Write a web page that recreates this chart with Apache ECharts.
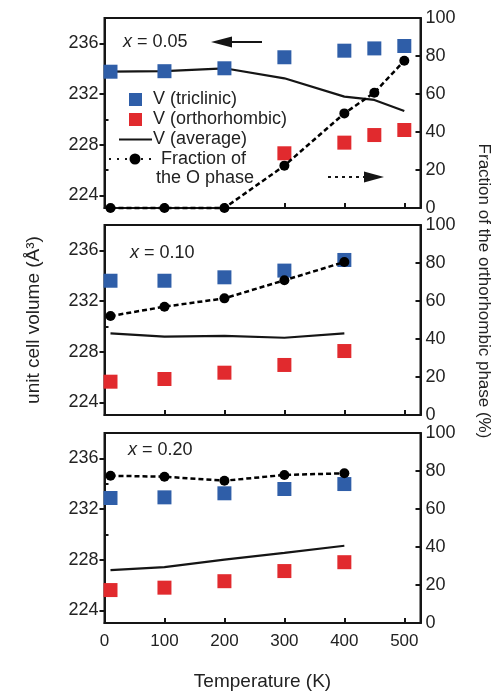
<!DOCTYPE html>
<html>
<head>
<meta charset="utf-8">
<script src="https://cdn.jsdelivr.net/npm/echarts@6/dist/echarts.min.js"></script>
<style>
  html, body { margin: 0; padding: 0; background: #fff; }
  #chart { width: 501px; height: 695px; }
</style>
</head>
<body>
<div id="chart"></div>
<script>
// temperatures (K)
const temps1 = [10, 100, 200, 300, 400, 450, 500]
const temps23 = [10, 100, 200, 300, 400]

// x = 0.05
const tricl1 = [233.76, 233.8, 234.03, 234.9, 235.42, 235.6, 235.79]
const ortho1 = [null, null, null, 227.32, 228.16, 228.76, 229.16]
const avg1 = [233.76, 233.8, 234.03, 233.24, 231.79, 231.53, 230.66]
const frac1 = [0, 0, 0, 22.3, 49.8, 60.7, 77.5]

// x = 0.10
const tricl2 = [233.6, 233.6, 233.87, 234.4, 235.24]
const ortho2 = [225.63, 225.84, 226.34, 226.95, 228.05]
const avg2 = [229.45, 229.18, 229.24, 229.1, 229.45]
const frac2 = [52.1, 57.0, 61.4, 70.9, 80.5]

// x = 0.20
const tricl3 = [232.87, 232.92, 233.24, 233.58, 233.97]
const ortho3 = [225.6, 225.79, 226.3, 227.1, 227.8]
const avg3 = [227.17, 227.41, 228.0, 228.53, 229.1]
const frac3 = [77.5, 77.0, 74.9, 77.9, 78.8]

const compLabels = ['0.05', '0.10', '0.20']
const volTicks = [224, 228, 232, 236]
const volMinorTicks = [226, 230, 234]

const BLUE = '#2f5ea8'
const RED = '#e12a2e'
const INK = '#151515'
const FONT = 'Liberation Sans, Arial, sans-serif'

const panels = [
  { temps: temps1, tricl: tricl1, ortho: ortho1, avg: avg1, frac: frac1 },
  { temps: temps23, tricl: tricl2, ortho: ortho2, avg: avg2, frac: frac2 },
  { temps: temps23, tricl: tricl3, ortho: ortho3, avg: avg3, frac: frac3 }
]

const pairs = (xs, ys) => xs.map((x, i) => [x, ys[i]]).filter(p => p[1] != null)

const gridTops = [18, 225, 433]
const GRID_LEFT = 104.5
const GRID_W = 316
const GRID_H = 190

const grid = []
const xAxis = []
const yAxis = []
const series = []

panels.forEach((p, i) => {
  grid.push({
    left: GRID_LEFT, top: gridTops[i], width: GRID_W, height: GRID_H,
    show: true, borderColor: INK, borderWidth: 2, backgroundColor: 'transparent'
  })
  xAxis.push({
    gridIndex: i,
    type: 'value',
    min: 0,
    max: 527,
    interval: 100,
    axisLine: { lineStyle: { color: INK, width: 2 } },
    axisTick: { inside: true, length: 5, lineStyle: { color: INK, width: 2 } },
    axisLabel: {
      show: i === 2, showMaxLabel: false, color: '#222', fontSize: 17, fontFamily: FONT, margin: 10
    },
    splitLine: { show: false },
    name: i === 2 ? 'Temperature (K)' : '',
    nameLocation: 'middle',
    nameGap: 49,
    nameTextStyle: { color: '#222', fontSize: 19, fontFamily: FONT }
  })
  // volume axis with major ticks
  yAxis.push({
    gridIndex: i,
    type: 'value',
    position: 'left',
    min: 223,
    max: 238,
    axisLine: { show: true, lineStyle: { color: INK, width: 2 } },
    axisTick: { show: true, customValues: volTicks, length: 5, lineStyle: { color: INK, width: 2 } },
    axisLabel: { customValues: volTicks, color: '#222', fontSize: 18, fontFamily: FONT, margin: 6 },
    splitLine: { show: false },
    name: i === 1 ? 'unit cell volume (Å³)' : '',
    nameLocation: 'middle',
    nameGap: 61,
    nameTextStyle: { color: '#222', fontSize: 19, fontFamily: FONT }
  })
  // volume axis, minor ticks only
  yAxis.push({
    gridIndex: i,
    type: 'value',
    position: 'left',
    min: 223,
    max: 238,
    axisLine: { show: false },
    axisTick: { show: true, inside: true, customValues: volMinorTicks, length: 4, lineStyle: { color: INK, width: 2 } },
    axisLabel: { show: false },
    splitLine: { show: false }
  })
  // fraction axis
  yAxis.push({
    gridIndex: i,
    type: 'value',
    position: 'right',
    min: 0,
    max: 100,
    interval: 20,
    axisLine: { show: true, lineStyle: { color: INK, width: 2 } },
    axisTick: { inside: true, length: 5, lineStyle: { color: INK, width: 2 } },
    axisLabel: { color: '#222', fontSize: 18, fontFamily: FONT, margin: 5 },
    splitLine: { show: false }
  })

  series.push({
    name: 'V (average)',
    type: 'line',
    xAxisIndex: i,
    yAxisIndex: 3 * i,
    data: pairs(p.temps, p.avg),
    showSymbol: false,
    lineStyle: { color: INK, width: 2.2 },
    z: 2
  })
  series.push({
    name: 'V (triclinic)',
    type: 'scatter',
    xAxisIndex: i,
    yAxisIndex: 3 * i,
    data: pairs(p.temps, p.tricl),
    symbol: 'rect',
    symbolSize: 14,
    itemStyle: { color: BLUE, opacity: 1 },
    z: 3
  })
  series.push({
    name: 'V (orthorhombic)',
    type: 'scatter',
    xAxisIndex: i,
    yAxisIndex: 3 * i,
    data: pairs(p.temps, p.ortho),
    symbol: 'rect',
    symbolSize: 14,
    itemStyle: { color: RED, opacity: 1 },
    z: 3
  })
  series.push({
    name: 'Fraction of the O phase',
    type: 'line',
    xAxisIndex: i,
    yAxisIndex: 3 * i + 2,
    data: pairs(p.temps, p.frac),
    symbol: 'circle',
    symbolSize: 10,
    clip: false,
    itemStyle: { color: '#000', opacity: 1 },
    lineStyle: { color: '#000', width: 2.5, type: [5, 3] },
    z: 4
  })
})

const txt = (x, y, text, extra) => ({
  type: 'text', x: x, y: y, z: 10,
  style: Object.assign({
    text: text, fill: '#222', fontSize: 18, fontFamily: FONT, align: 'left', verticalAlign: 'middle'
  }, extra || {})
})
const compText = (x, y, c) => txt(x, y, '{i|x} = ' + c, {
  rich: { i: { fontStyle: 'italic', fontSize: 18, fontFamily: FONT, fill: '#222' } }
})

const graphic = [
  compText(123, 42, compLabels[0]),
  compText(130, 253, compLabels[1]),
  compText(128, 450, compLabels[2]),
  // arrow to the left axis
  { type: 'line', z: 10, shape: { x1: 228, y1: 42, x2: 262, y2: 42 }, style: { stroke: INK, lineWidth: 2 } },
  { type: 'polygon', z: 10, shape: { points: [[211, 42], [232, 36.5], [232, 47.5]] }, style: { fill: INK } },
  // dotted arrow to the right axis
  { type: 'line', z: 10, shape: { x1: 328, y1: 177, x2: 366, y2: 177 }, style: { stroke: INK, lineWidth: 2, lineDash: [3, 4] } },
  { type: 'polygon', z: 10, shape: { points: [[384, 177], [364, 171.5], [364, 182.5]] }, style: { fill: INK } },
  // legend
  { type: 'rect', z: 10, shape: { x: 129, y: 93, width: 13, height: 13 }, style: { fill: BLUE } },
  txt(153, 99, 'V (triclinic)'),
  { type: 'rect', z: 10, shape: { x: 129, y: 113, width: 13, height: 13 }, style: { fill: RED } },
  txt(153, 119, 'V (orthorhombic)'),
  { type: 'line', z: 10, shape: { x1: 119, y1: 139.5, x2: 152, y2: 139.5 }, style: { stroke: INK, lineWidth: 2 } },
  txt(153, 139.5, 'V (average)'),
  { type: 'line', z: 10, shape: { x1: 109, y1: 159, x2: 153, y2: 159 }, style: { stroke: INK, lineWidth: 2, lineDash: [2, 6] } },
  { type: 'circle', z: 11, shape: { cx: 135, cy: 159, r: 5.5 }, style: { fill: '#000' } },
  txt(161, 159, 'Fraction of'),
  txt(156, 178, 'the O phase'),
  // right axis title
  {
    type: 'text', x: 484, y: 291, rotation: -Math.PI / 2, z: 10,
    style: { text: 'Fraction of the orthorhombic phase (%)', fill: '#222', fontSize: 17, fontFamily: FONT, align: 'center', verticalAlign: 'middle' }
  }
]

const chart = echarts.init(document.getElementById('chart'), null, { renderer: 'canvas' })
chart.setOption({
  animation: false,
  backgroundColor: '#fff',
  textStyle: { fontFamily: FONT },
  grid: grid,
  xAxis: xAxis,
  yAxis: yAxis,
  series: series,
  graphic: graphic
})
</script>
</body>
</html>
